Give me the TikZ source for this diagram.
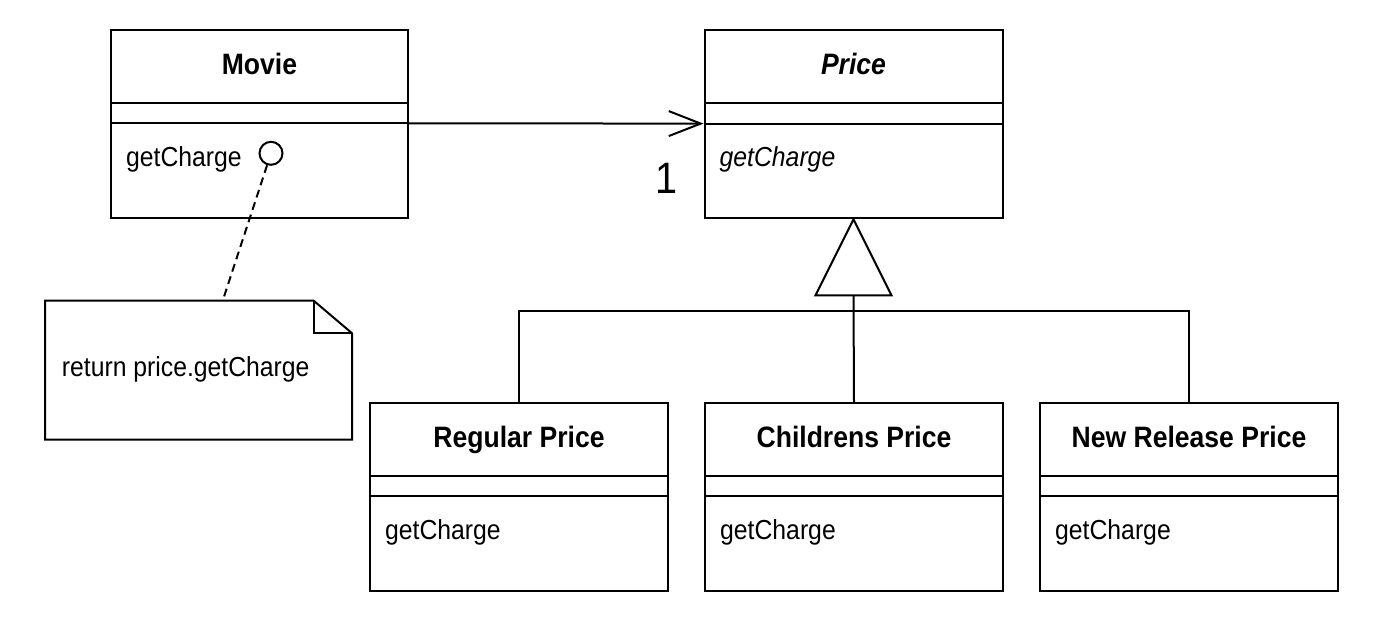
\documentclass[tikz,border=0pt]{standalone}
\usepackage{fontspec}
\setmainfont{Liberation Sans}[FakeStretch=0.9]
\usetikzlibrary{calc,arrows.meta}
\tikzset{
  x=1pt, y=-1pt,
  ln/.style={line width=2pt},
  classbox/.style={draw, ln, minimum height=188pt, inner sep=0pt, anchor=north west},
  titletext/.style={font=\fontsize{29.5}{35}\selectfont\bfseries, inner sep=0pt, anchor=base},
  optext/.style={font=\fontsize{27.5}{33}\selectfont, inner sep=0pt, anchor=base west},
  assoc/.style={ln, -{Straight Barb[length=32pt,width=25pt,line width=2pt]}},
  notelink/.style={ln, dash pattern=on 8pt off 5pt},
}
\newcommand\umlclass[6]{% name, left x, top y, width, title, operation
  \node[classbox, minimum width=#4pt] (#1) at (#2,#3) {};
  \draw[ln] ($(#1.north west)+(0,73.7)$) -- ($(#1.north east)+(0,73.7)$);
  \draw[ln] ($(#1.north west)+(0,94.3)$) -- ($(#1.north east)+(0,94.3)$);
  \node[titletext] (#1-name) at ($(#1.north)+(0,45.5)$) {#5};
  \node[optext] (#1-op) at ($(#1.north west)+(16,137.5)$) {#6};
}
\begin{document}
\begin{tikzpicture}
\useasboundingbox (0,0) rectangle (1374,624);
\umlclass{movie}{110}{29}{297}{Movie}{getCharge}
\umlclass{price}{703.5}{29.3}{298}{\itshape Price}{\itshape getCharge}
\umlclass{regular}{369}{402}{298}{Regular Price}{getCharge}
\umlclass{children}{704}{402}{298}{Childrens Price}{getCharge}
\umlclass{newrel}{1039}{402}{298}{New Release Price}{getCharge}
% association
\draw[assoc] ($(movie.north east)+(0,94.3)$) -- ($(price.north west)+(0,94.3)$);
\node[font=\fontsize{44}{50}\selectfont, inner sep=0pt, anchor=base] (mult) at (667,193) {1};
% note
\node[circle, draw, ln, minimum size=23pt, inner sep=0pt] (port) at (271,153.3) {};
\node[minimum width=306.7pt, minimum height=138.6pt, inner sep=0pt, anchor=north west] (note) at (45,300.7) {};
\draw[ln] (note.north west) -- ($(note.north east)+(-38.4,0)$) -- ($(note.north east)+(0,32.6)$)
  -- (note.south east) -- (note.south west) -- cycle;
\draw[ln] ($(note.north east)+(-38.4,0)$) -- ++(0,32.6) -- ++(38.4,0);
\node[optext] (notetext) at ($(note.north west)+(16.7,76)$) {return price.getCharge};
\coordinate (notetop) at ($(note.north west)+(177.7,0)$);
\draw[notelink] (port) -- (notetop);
% generalization
\draw[ln] (price.south) -- ++(-38,76) -- ++(76,0) -- cycle;
\coordinate (tri) at ($(price.south)+(0,76)$);
\coordinate (bus) at ($(tri)+(0,15.3)$);
\draw[ln] (tri) -- (children.north);
\draw[ln] (regular.north) |- (bus) -| (newrel.north);
\end{tikzpicture}
\end{document}
